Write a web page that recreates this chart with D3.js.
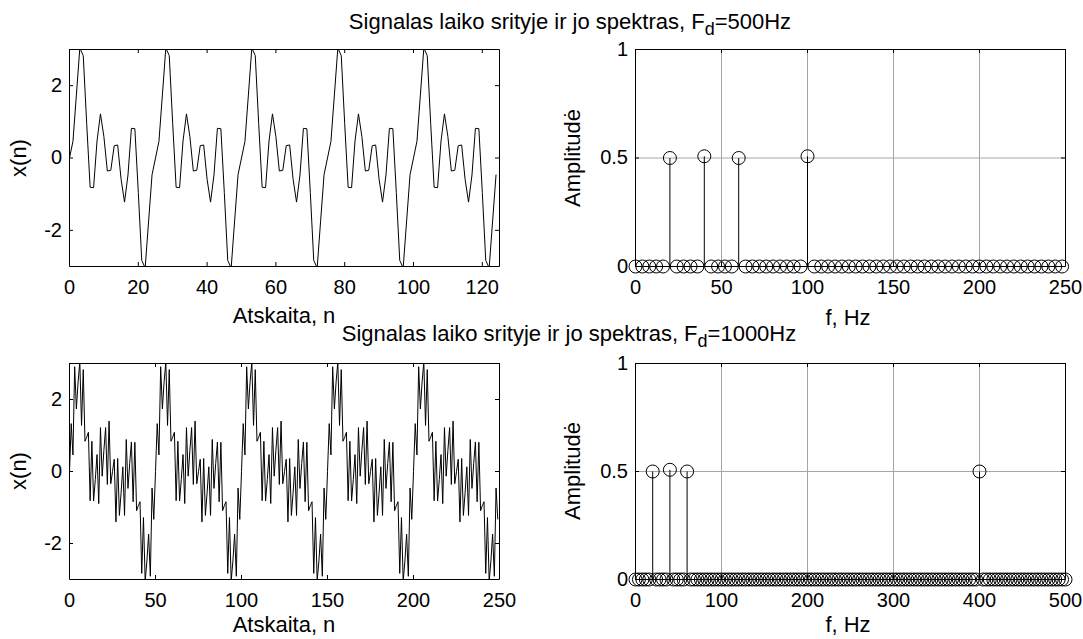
<!DOCTYPE html>
<html>
<head>
<meta charset="utf-8">
<script src="https://cdn.jsdelivr.net/npm/d3@7"></script>
<style>
    body { margin: 0; background: #fff; }
    svg text { font-family: "Liberation Sans", Arial, Helvetica, sans-serif; fill: #000; }
</style>
</head>
<body>
<svg id="fig" width="1083" height="639"></svg>
<script>
// Time signal, Fd = 500 Hz, n = 0..124
const signal500 = [
    0, 0.46, 1.74, 3.04, 2.83, 0.95, -0.81, -0.82, 0.47, 1.22, 0.59, -0.36, -0.34, 0.34, 0.36, -0.59, -1.22, -0.47, 0.82, 0.81, -0.95, -2.83, -3.04, -1.74, -0.46,
    0, 0.46, 1.74, 3.04, 2.83, 0.95, -0.81, -0.82, 0.47, 1.22, 0.59, -0.36, -0.34, 0.34, 0.36, -0.59, -1.22, -0.47, 0.82, 0.81, -0.95, -2.83, -3.04, -1.74, -0.46,
    0, 0.46, 1.74, 3.04, 2.83, 0.95, -0.81, -0.82, 0.47, 1.22, 0.59, -0.36, -0.34, 0.34, 0.36, -0.59, -1.22, -0.47, 0.82, 0.81, -0.95, -2.83, -3.04, -1.74, -0.46,
    0, 0.46, 1.74, 3.04, 2.83, 0.95, -0.81, -0.82, 0.47, 1.22, 0.59, -0.36, -0.34, 0.34, 0.36, -0.59, -1.22, -0.47, 0.82, 0.81, -0.95, -2.83, -3.04, -1.74, -0.46,
    0, 0.46, 1.74, 3.04, 2.83, 0.95, -0.81, -0.82, 0.47, 1.22, 0.59, -0.36, -0.34, 0.34, 0.36, -0.59, -1.22, -0.47, 0.82, 0.81, -0.95, -2.83, -3.04, -1.74, -0.46
];

// Time signal, Fd = 1000 Hz, n = 0..249
const signal1000 = [
    0, 1.33, 0.46, 2.91, 1.74, 2.49, 3.04, 1.28, 2.83, 0.84, 0.95, 1.09, -0.81, 0.84, -0.82, -0.22, 0.47, -0.89, 1.22, -0.13, 0.59, 1.22, -0.36, 1.40, -0.34,
    0, 0.34, -1.40, 0.36, -1.22, -0.59, 0.13, -1.22, 0.89, -0.47, 0.22, 0.82, -0.84, 0.81, -1.09, -0.95, -0.84, -2.83, -1.28, -3.04, -2.49, -1.74, -2.91, -0.46, -1.33,
    0, 1.33, 0.46, 2.91, 1.74, 2.49, 3.04, 1.28, 2.83, 0.84, 0.95, 1.09, -0.81, 0.84, -0.82, -0.22, 0.47, -0.89, 1.22, -0.13, 0.59, 1.22, -0.36, 1.40, -0.34,
    0, 0.34, -1.40, 0.36, -1.22, -0.59, 0.13, -1.22, 0.89, -0.47, 0.22, 0.82, -0.84, 0.81, -1.09, -0.95, -0.84, -2.83, -1.28, -3.04, -2.49, -1.74, -2.91, -0.46, -1.33,
    0, 1.33, 0.46, 2.91, 1.74, 2.49, 3.04, 1.28, 2.83, 0.84, 0.95, 1.09, -0.81, 0.84, -0.82, -0.22, 0.47, -0.89, 1.22, -0.13, 0.59, 1.22, -0.36, 1.40, -0.34,
    0, 0.34, -1.40, 0.36, -1.22, -0.59, 0.13, -1.22, 0.89, -0.47, 0.22, 0.82, -0.84, 0.81, -1.09, -0.95, -0.84, -2.83, -1.28, -3.04, -2.49, -1.74, -2.91, -0.46, -1.33,
    0, 1.33, 0.46, 2.91, 1.74, 2.49, 3.04, 1.28, 2.83, 0.84, 0.95, 1.09, -0.81, 0.84, -0.82, -0.22, 0.47, -0.89, 1.22, -0.13, 0.59, 1.22, -0.36, 1.40, -0.34,
    0, 0.34, -1.40, 0.36, -1.22, -0.59, 0.13, -1.22, 0.89, -0.47, 0.22, 0.82, -0.84, 0.81, -1.09, -0.95, -0.84, -2.83, -1.28, -3.04, -2.49, -1.74, -2.91, -0.46, -1.33,
    0, 1.33, 0.46, 2.91, 1.74, 2.49, 3.04, 1.28, 2.83, 0.84, 0.95, 1.09, -0.81, 0.84, -0.82, -0.22, 0.47, -0.89, 1.22, -0.13, 0.59, 1.22, -0.36, 1.40, -0.34,
    0, 0.34, -1.40, 0.36, -1.22, -0.59, 0.13, -1.22, 0.89, -0.47, 0.22, 0.82, -0.84, 0.81, -1.09, -0.95, -0.84, -2.83, -1.28, -3.04, -2.49, -1.74, -2.91, -0.46, -1.33
];

// Amplitude spectra, bin width 4 Hz (0..248 Hz and 0..500 Hz)
const binHz500 = 4;
const amp500 = [
    0, 0, 0, 0, 0, 0.5, 0, 0, 0, 0,
    0.508, 0, 0, 0, 0, 0.5, 0, 0, 0, 0,
    0, 0, 0, 0, 0, 0.508, 0, 0, 0, 0,
    0, 0, 0, 0, 0, 0, 0, 0, 0, 0,
    0, 0, 0, 0, 0, 0, 0, 0, 0, 0,
    0, 0, 0, 0, 0, 0, 0, 0, 0, 0,
    0, 0, 0
];
const binHz1000 = 4;
const amp1000 = [
    0, 0, 0, 0, 0, 0.5, 0, 0, 0, 0,
    0.508, 0, 0, 0, 0, 0.5, 0, 0, 0, 0,
    0, 0, 0, 0, 0, 0, 0, 0, 0, 0,
    0, 0, 0, 0, 0, 0, 0, 0, 0, 0,
    0, 0, 0, 0, 0, 0, 0, 0, 0, 0,
    0, 0, 0, 0, 0, 0, 0, 0, 0, 0,
    0, 0, 0, 0, 0, 0, 0, 0, 0, 0,
    0, 0, 0, 0, 0, 0, 0, 0, 0, 0,
    0, 0, 0, 0, 0, 0, 0, 0, 0, 0,
    0, 0, 0, 0, 0, 0, 0, 0, 0, 0,
    0.5, 0, 0, 0, 0, 0, 0, 0, 0, 0,
    0, 0, 0, 0, 0, 0, 0, 0, 0, 0,
    0, 0, 0, 0, 0, 0
];

// Tick values
const ticksN500 = [0, 20, 40, 60, 80, 100, 120];
const ticksN1000 = [0, 50, 100, 150, 200, 250];
const ticksSignal = [-2, 0, 2];
const ticksF500 = [0, 50, 100, 150, 200, 250];
const ticksF1000 = [0, 100, 200, 300, 400, 500];
const ticksAmp = [0, 0.5, 1];

const fig = d3.select('#fig');
const fmt = d => String(d);
const TICK = 4;

// Box with inward ticks on all four sides (MATLAB style)
function drawFrame(g, x, y, xTicks, yTicks) {
    const [x0, x1] = x.range();
    const [y0, y1] = y.range();
    const style = sel => {
        sel.select('.domain').attr('stroke', '#000');
        sel.selectAll('.tick line').attr('stroke', '#000');
        sel.selectAll('.tick text').style('font-size', '20px').attr('fill', '#000');
    };
    g.append('g').attr('transform', `translate(0,${y0})`)
        .call(d3.axisBottom(x).tickValues(xTicks).tickFormat(fmt).tickSizeInner(-TICK).tickSizeOuter(0).tickPadding(14))
        .call(style);
    g.append('g').attr('transform', `translate(0,${y1})`)
        .call(d3.axisTop(x).tickValues(xTicks).tickFormat('').tickSizeInner(-TICK).tickSizeOuter(0))
        .call(style);
    g.append('g').attr('transform', `translate(${x0},0)`)
        .call(d3.axisLeft(y).tickValues(yTicks).tickFormat(fmt).tickSizeInner(-TICK).tickSizeOuter(0).tickPadding(7))
        .call(style);
    g.append('g').attr('transform', `translate(${x1},0)`)
        .call(d3.axisRight(y).tickValues(yTicks).tickFormat('').tickSizeInner(-TICK).tickSizeOuter(0))
        .call(style);
}

function drawGrid(g, x, y, xTicks, yTicks) {
    const [x0, x1] = x.range();
    const [y0, y1] = y.range();
    g.append('g').attr('transform', `translate(0,${y0})`)
        .call(d3.axisBottom(x).tickValues(xTicks.slice(1, -1)).tickFormat('').tickSize(-(y0 - y1)))
        .call(s => s.select('.domain').remove())
        .call(s => s.selectAll('.tick line').attr('stroke', '#a6a6a6'));
    g.append('g').attr('transform', `translate(${x0},0)`)
        .call(d3.axisLeft(y).tickValues(yTicks.slice(1, -1)).tickFormat('').tickSize(-(x1 - x0)))
        .call(s => s.select('.domain').remove())
        .call(s => s.selectAll('.tick line').attr('stroke', '#a6a6a6'));
}

function signalPanel(id, data, nMax, xr, yr, xTicks) {
    const g = fig.append('g');
    const x = d3.scaleLinear().domain([0, nMax]).range(xr);
    const y = d3.scaleLinear().domain([-3, 3]).range(yr);
    g.append('clipPath').attr('id', id)
        .append('rect').attr('x', xr[0]).attr('y', yr[1]).attr('width', xr[1] - xr[0] + 1).attr('height', yr[0] - yr[1] + 1);
    const line = d3.line().x((d, i) => x(i) + 0.5).y(d => y(d) + 0.5);
    g.append('path').datum(data)
        .attr('clip-path', `url(#${id})`)
        .attr('d', line)
        .attr('fill', 'none')
        .attr('stroke', '#000')
        .attr('stroke-width', 1);
    drawFrame(g, x, y, xTicks, ticksSignal);
}

function spectrumPanel(amp, binHz, fMax, xr, yr, xTicks) {
    const g = fig.append('g');
    const x = d3.scaleLinear().domain([0, fMax]).range(xr);
    const y = d3.scaleLinear().domain([0, 1]).range(yr);
    drawGrid(g, x, y, xTicks, ticksAmp);
    const pts = amp.map((a, i) => ({ f: i * binHz, a }));
    g.append('g').selectAll('line')
        .data(pts.filter(d => d.a > 0))
        .enter()
        .append('line')
        .attr('x1', d => x(d.f) + 0.5)
        .attr('x2', d => x(d.f) + 0.5)
        .attr('y1', y(0) + 0.5)
        .attr('y2', d => y(d.a) + 0.5)
        .attr('stroke', '#000');
    drawFrame(g, x, y, xTicks, ticksAmp);
    g.append('g').selectAll('circle')
        .data(pts)
        .enter()
        .append('circle')
        .attr('cx', d => x(d.f) + 0.5)
        .attr('cy', d => y(d.a) + 0.5)
        .attr('r', 6.5)
        .attr('fill', 'none')
        .attr('stroke', '#000')
        .attr('stroke-width', 1);
}

function label(x, y, txt, rotate) {
    fig.append('text')
        .attr('transform', `translate(${x},${y})` + (rotate ? ' rotate(-90)' : ''))
        .attr('text-anchor', 'middle')
        .style('font-size', '22px')
        .text(txt);
}

function title(x, y, pre, sub, post) {
    const t = fig.append('text').attr('x', x).attr('y', y)
        .attr('text-anchor', 'middle').style('font-size', '22px');
    t.append('tspan').text(pre);
    t.append('tspan').attr('dy', 6).style('font-size', '18px').text(sub);
    t.append('tspan').attr('dy', -6).text(post);
}

const leftX = [69, 499], rightX = [635, 1065];
const topY = [266, 49], botY = [579, 363];

signalPanel('clipTop', signal500, 125, leftX, topY, ticksN500);
spectrumPanel(amp500, binHz500, 250, rightX, topY, ticksF500);
signalPanel('clipBot', signal1000, 250, leftX, botY, ticksN1000);
spectrumPanel(amp1000, binHz1000, 500, rightX, botY, ticksF1000);

title(570, 29, 'Signalas laiko srityje ir jo spektras, F', 'd', '=500Hz');
title(569, 341, 'Signalas laiko srityje ir jo spektras, F', 'd', '=1000Hz');

label(284, 323, 'Atskaita, n');
label(848, 325, 'f, Hz');
label(284, 632, 'Atskaita, n');
label(848, 632, 'f, Hz');

label(26, 158, 'x(n)', true);
label(26, 471, 'x(n)', true);
label(580, 158, 'Amplitudė', true);
label(580, 471, 'Amplitudė', true);
</script>
</body>
</html>
